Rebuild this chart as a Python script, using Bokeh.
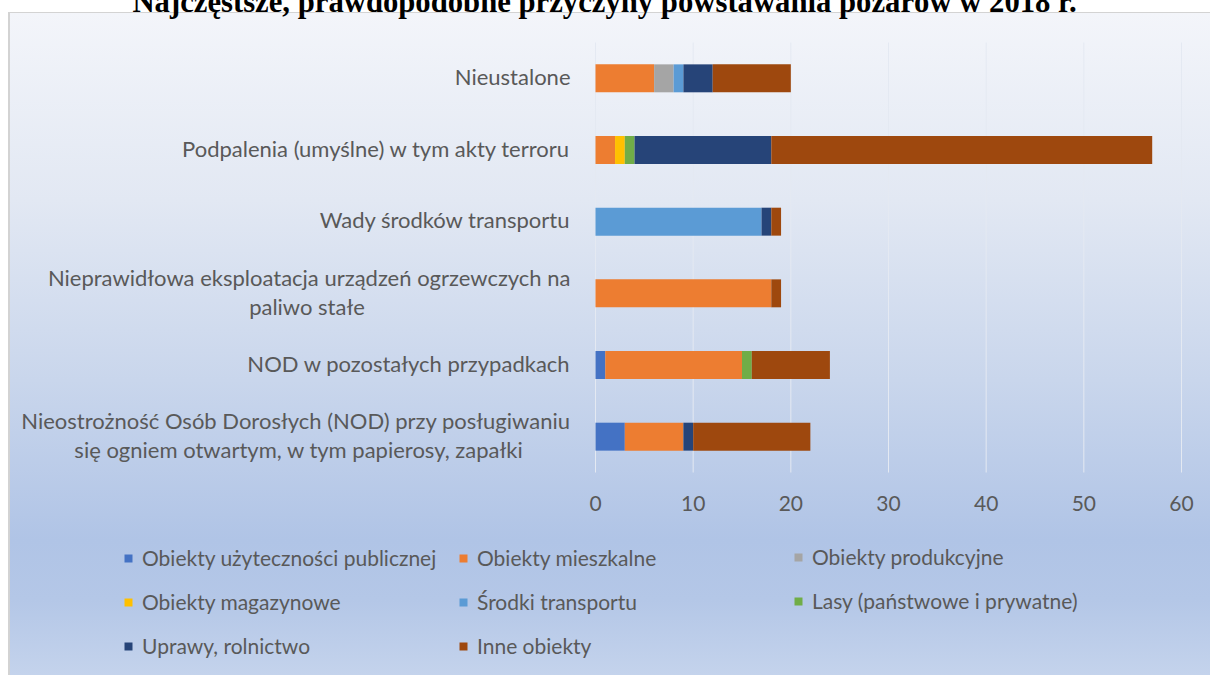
from bokeh.plotting import figure
from bokeh.models import (FactorRange, Range1d, FixedTicker, Legend, LegendItem, Label,
                          LabelSet, LinearAxis, ColumnDataSource)
from bokeh.core.properties import value
from bokeh.embed import file_html
from bokeh.resources import INLINE

# ---------------- data ----------------
causes = [
    "Nieostrożność Osób Dorosłych (NOD) przy posługiwaniu\nsię ogniem otwartym, w tym papierosy, zapałki",
    "NOD w pozostałych przypadkach",
    "Nieprawidłowa eksploatacja urządzeń ogrzewczych na\npaliwo stałe",
    "Wady środków transportu",
    "Podpalenia (umyślne) w tym akty terroru",
    "Nieustalone",
]
series = ["Obiekty użyteczności publicznej", "Obiekty mieszkalne", "Obiekty produkcyjne",
          "Obiekty magazynowe", "Środki transportu", "Lasy (państwowe i prywatne)",
          "Uprawy, rolnictwo", "Inne obiekty"]
obiekty_uzytecznosci = [3, 1, 0, 0, 0, 0]
obiekty_mieszkalne = [6, 14, 18, 0, 2, 6]
obiekty_produkcyjne = [0, 0, 0, 0, 0, 2]
obiekty_magazynowe = [0, 0, 0, 0, 1, 0]
srodki_transportu = [0, 0, 0, 17, 0, 1]
lasy = [0, 1, 0, 0, 1, 0]
uprawy = [1, 0, 0, 1, 14, 3]
inne = [12, 8, 1, 1, 39, 8]
x_ticks = [0, 10, 20, 30, 40, 50, 60]
title_text = "Najczęstsze, prawdopodobne przyczyny powstawania pożarów w 2018 r."

colors = ["#4472C4", "#ED7D31", "#A5A5A5", "#FFC000", "#5B9BD5", "#70AD47", "#264478", "#9E480E"]
values = [obiekty_uzytecznosci, obiekty_mieszkalne, obiekty_produkcyjne, obiekty_magazynowe,
          srodki_transportu, lasy, uprawy, inne]

keys = ["s%d" % i for i in range(len(series))]
data = {"cause": causes}
for k, v in zip(keys, values):
    data[k] = v
source = ColumnDataSource(data)

# ---------------- layout constants (pixels) ----------------
FONT = "Lato"
FS = "21px"
FS_CAT = "22px"
TXT = "#595959"
W = 1202                 # figure width (page x 8 .. 1210)
TOP_PANEL = 60           # hidden panel holding the x axis
PLOT_L, PLOT_R = 587, 1173      # x = 0 and x = 60 (figure px)
PLOT_T, PLOT_B = 42, 472        # top / bottom of the category band (page px)
PAGE_H = 675
px_per_x = (PLOT_R - PLOT_L) / (x_ticks[-1] - x_ticks[0])
px_per_cat = (PLOT_B - PLOT_T) / len(causes)
pad_px = PAGE_H - PLOT_B                    # space below the bars (same above)
SHIFT = pad_px - PLOT_T + TOP_PANEL         # figure starts this far above the page
H = SHIFT + PAGE_H

x_range = Range1d(-PLOT_L / px_per_x, (W - PLOT_L) / px_per_x)
y_range = FactorRange(*causes, range_padding=pad_px / px_per_cat, range_padding_units="absolute")

p = figure(width=W, height=H, output_backend="svg", toolbar_location=None,
           x_range=x_range, y_range=y_range, x_axis_location=None, y_axis_location=None,
           min_border=0, min_border_top=TOP_PANEL)
y0 = SHIFT + 12
p.styles = {
    "position": "absolute", "left": "8px", "top": "-%dpx" % SHIFT,
    "background": ("linear-gradient(#d3d3d3,#d3d3d3) 0px %dpx / 100%% 1px no-repeat, "
                   "linear-gradient(#d3d3d3,#d3d3d3) 0px %dpx / 2px 100%% no-repeat, "
                   "linear-gradient(to bottom, #ffffff 0px, #ffffff %dpx, #f3f5fa %dpx, "
                   "#e2e8f3 %dpx, #c9d6ec %dpx, #b0c4e6 %dpx, #b4c7e7 %dpx, #c4d3ec %dpx)")
                  % (y0, y0, y0, y0 + 1, SHIFT + 200, SHIFT + 380, SHIFT + 540, SHIFT + 600, H)
}
p.border_fill_color = None
p.background_fill_color = None
p.outline_line_color = None
p.grid.visible = False

# vertical grid lines only across the category band
p.segment(x0=x_ticks, x1=x_ticks, y0=0, y1=len(causes), line_color="#e4e9f2", line_width=1)

renderers = p.hbar_stack(keys, y="cause", height=0.39, color=colors, source=source, line_width=0)

# x axis (tick labels just below the bars)
xaxis = LinearAxis(ticker=FixedTicker(ticks=x_ticks), fixed_location=0,
                   axis_line_color=None, major_tick_line_color=None, minor_tick_line_color=None,
                   major_label_text_font=FONT, major_label_text_font_size=FS,
                   major_label_text_color=TXT, major_label_standoff=-44)
p.add_layout(xaxis, "above")

# category labels (second line centred under the first)
line1_width = {0: 543, 2: 527}
lx, ly, lt, lxo, lyo, lal = [], [], [], [], [], []
for i, c in enumerate(causes):
    parts = c.split("\n")
    if len(parts) == 1:
        lx.append(0); ly.append(c); lt.append(parts[0]); lxo.append(-25); lyo.append(2); lal.append("right")
    else:
        w = line1_width.get(i, 500)
        lx.append(0); ly.append(c); lt.append(parts[0]); lxo.append(-25); lyo.append(16); lal.append("right")
        lx.append(0); ly.append(c); lt.append(parts[1]); lxo.append(-25 - w / 2); lyo.append(-13); lal.append("center")
lab_src = ColumnDataSource(dict(x=lx, y=ly, t=lt, xo=lxo, yo=lyo, al=lal))
p.add_layout(LabelSet(x="x", y="y", text="t", x_offset="xo", y_offset="yo", text_align="al",
                      text_baseline="middle", source=lab_src, text_font=value(FONT),
                      text_font_size=value(FS_CAT), text_color=value(TXT)))

# title (its upper part lies above the page, as in the original)
p.add_layout(Label(x=(596 - PLOT_L) / px_per_x, y=len(causes) + (PLOT_T - 1) / px_per_cat,
                   text=title_text, text_font="Liberation Serif", text_font_style="bold",
                   text_font_size="30.7px", text_color="#000000", text_align="center",
                   text_baseline="alphabetic"))

# legend: three columns
cols = [[0, 3, 6], [1, 4, 7], [2, 5]]
col_x = [115, 450, 785]
row_pitch = 45
for cx, idxs in zip(col_x, cols):
    items = [LegendItem(label=series[i], renderers=[renderers[i]]) for i in idxs]
    lg = Legend(items=items, location=(cx, 17 + (3 - len(idxs)) * row_pitch), orientation="vertical",
                padding=0, margin=0, spacing=19, glyph_width=10, glyph_height=10,
                label_height=20, label_standoff=9, border_line_color=None,
                background_fill_alpha=0, label_text_font=FONT,
                label_text_font_size=FS, label_text_color=TXT)
    p.add_layout(lg, "center")

open("out.html", "w").write(file_html(p, INLINE))
